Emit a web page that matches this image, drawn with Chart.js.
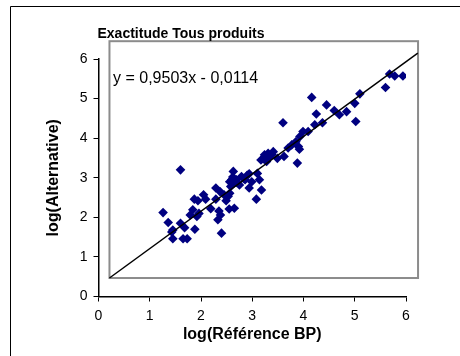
<!DOCTYPE html>
<html lang="fr">
<head>
    <meta charset="UTF-8">
    <title>Exactitude Tous produits</title>
    <script src="https://cdn.jsdelivr.net/npm/chart.js@4"></script>
    <style>
        body { margin: 0; background: #fff; }
    </style>
</head>
<body>
    <canvas id="myChart" width="460" height="356"></canvas>
    <script>
        const chartTitle = 'Exactitude Tous produits';
        const equation = 'y = 0,9503x - 0,0114';

        // log(Référence BP) / log(Alternative)
        const refBP = [1.26, 1.36, 1.45, 1.45, 1.60, 1.60, 1.65, 1.68, 1.73, 1.79, 1.84, 1.87, 1.88, 1.94, 1.96, 1.92,
            2.05, 2.09, 2.19, 2.29, 2.29, 2.33, 2.35, 2.37, 2.40, 2.38, 2.45, 2.49, 2.55, 2.56, 2.60, 2.63, 2.65,
            2.69, 2.75, 2.79, 2.86, 2.94, 2.94, 2.99, 3.08, 3.10, 3.14, 3.18, 3.17, 3.25, 3.28, 3.31, 3.38, 3.41,
            3.49, 3.60, 3.62, 3.70, 3.77, 3.85, 3.88, 3.90, 3.92, 3.93, 3.99, 4.09, 4.16, 4.22, 4.25, 4.37, 4.45,
            4.60, 4.70, 4.84, 5.00, 5.02, 5.10, 5.60, 5.68, 5.78, 5.94, 2.56, 2.66, 2.53, 1.43,
            2.62, 2.70, 2.83, 2.90, 3.22, 3.33, 2.58, 3.24];
        const alternative = [2.12, 1.87, 1.68, 1.46, 3.20, 1.85, 1.46, 1.74, 1.46, 2.06, 2.19, 2.46, 1.70, 2.42, 2.10, 2.02,
            2.57, 2.46, 2.22, 2.74, 2.46, 1.94, 2.16, 2.65, 1.60, 2.06, 2.57, 2.42, 2.21, 2.61, 2.95, 3.16, 2.23,
            2.95, 2.82, 3.03, 2.95, 3.10, 2.74, 2.90, 2.46, 3.11, 2.95, 2.69, 3.45, 3.54, 3.41, 3.62, 3.58, 3.66,
            3.49, 4.39, 3.54, 3.75, 3.83, 3.91, 3.37, 3.79, 3.72, 4.04, 4.17, 4.17, 5.03, 4.34, 4.61, 4.39, 4.84,
            4.70, 4.59, 4.67, 4.88, 4.42, 5.12, 5.28, 5.62, 5.57, 5.57, 2.90, 2.88, 2.53, 1.63,
            3.02, 2.88, 2.98, 3.06, 3.48, 3.52, 2.78, 3.58];

        // courbe de tendance telle que tracée
        const trendX = [0.214, 6.23];
        const trendY = [0.467, 6.15];

        const axisTicks = [0, 1, 2, 3, 4, 5, 6];

        const decorations = {
            id: 'decorations',
            beforeDatasetsDraw(chart) {
                const ctx = chart.ctx;
                const x = chart.scales.x, y = chart.scales.y;
                // cadre gris (zone de traçage décalée)
                const x1 = x.getPixelForValue(0.214), x2 = x.getPixelForValue(6.235);
                const y1 = y.getPixelForValue(6.45), y2 = y.getPixelForValue(0.467);
                ctx.save();
                ctx.strokeStyle = '#8c8c8c';
                ctx.lineWidth = 2;
                ctx.strokeRect(x1, y1, x2 - x1, y2 - y1);
                ctx.restore();
            },
            afterDraw(chart) {
                const ctx = chart.ctx;
                ctx.save();
                // bordure extérieure
                ctx.strokeStyle = '#000';
                ctx.lineWidth = 1;
                ctx.beginPath();
                ctx.moveTo(10.5, 356);
                ctx.lineTo(10.5, 6.5);
                ctx.lineTo(460, 6.5);
                ctx.stroke();

                ctx.fillStyle = '#000';
                ctx.textBaseline = 'middle';
                ctx.font = 'bold 14px "Liberation Sans", Arial, sans-serif';
                ctx.fillText(chartTitle, 97.5, 34.5);
                ctx.font = '16px "Liberation Sans", Arial, sans-serif';
                ctx.fillText(equation, 113, 79);
                ctx.restore();
            }
        };

        const axisFont = { family: '"Liberation Sans", Arial, sans-serif', size: 14 };
        const titleFont = { family: '"Liberation Sans", Arial, sans-serif', size: 16, weight: 'bold' };

        const ctx = document.getElementById('myChart').getContext('2d');
        const myChart = new Chart(ctx, {
            type: 'scatter',
            data: {
                datasets: [{
                    label: 'Produits',
                    data: refBP.map((x, i) => ({ x, y: alternative[i] })),
                    backgroundColor: '#000080',
                    borderWidth: 0,
                    pointStyle: 'rectRot',
                    pointRadius: 4.8,
                    order: 2
                }, {
                    type: 'line',
                    label: 'Tendance',
                    data: trendX.map((x, i) => ({ x, y: trendY[i] })),
                    borderColor: '#000',
                    borderWidth: 1.5,
                    pointRadius: 0,
                    fill: false,
                    clip: false,
                    order: 1
                }]
            },
            options: {
                responsive: false,
                animation: false,
                layout: { padding: { left: 44, right: 54, top: 59, bottom: 12 } },
                plugins: {
                    legend: { display: false },
                    tooltip: { enabled: false }
                },
                scales: {
                    x: {
                        type: 'linear',
                        min: 0, max: 6,
                        afterBuildTicks: s => { s.ticks = axisTicks.map(v => ({ value: v })); },
                        afterFit: s => { s.height = 47.5; },
                        ticks: { color: '#000', font: axisFont, padding: 6, maxRotation: 0 },
                        grid: { drawOnChartArea: false, drawTicks: true, tickLength: 5, color: '#000', lineWidth: 1 },
                        border: { display: true, color: '#000', width: 1.5 },
                        title: { display: true, text: 'log(Référence BP)', color: '#000', font: titleFont, padding: 0 }
                    },
                    y: {
                        type: 'linear',
                        min: 0, max: 6,
                        afterBuildTicks: s => { s.ticks = axisTicks.map(v => ({ value: v })); },
                        afterFit: s => { s.width = 54.5; },
                        ticks: { color: '#000', font: axisFont, padding: 6 },
                        grid: { drawOnChartArea: false, drawTicks: true, tickLength: 5, color: '#000', lineWidth: 1 },
                        border: { display: true, color: '#000', width: 1.5 },
                        title: { display: true, text: 'log(Alternative)', color: '#000', font: titleFont, padding: 0 }
                    }
                }
            },
            plugins: [decorations]
        });
    </script>
</body>
</html>
